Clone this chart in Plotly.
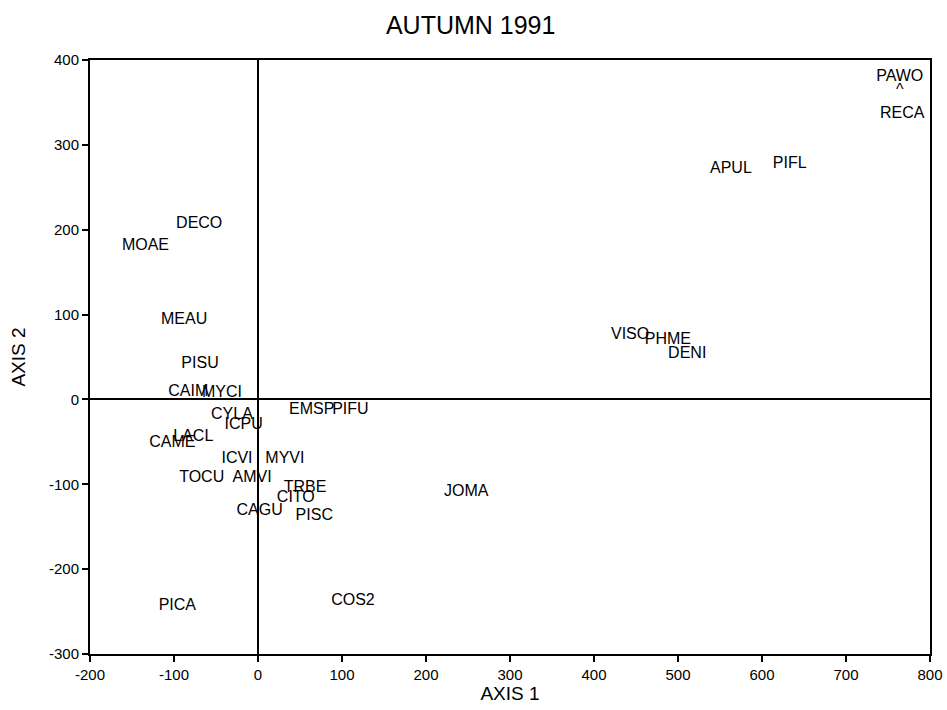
import plotly.graph_objects as go

labels = ["PAWO", "^", "RECA", "APUL", "PIFL", "DECO", "MOAE", "MEAU", "PISU",
          "CAIM", "MYCI", "CYLA", "ICPU", "EMSP", "PIFU", "LACL", "CAME",
          "ICVI", "MYVI", "TOCU", "AMVI", "TRBE", "CITO", "CAGU", "PISC",
          "JOMA", "VISO", "PHME", "DENI", "PICA", "COS2"]
axis1 = [764, 764, 767, 563, 633, -70, -134, -88, -69,
         -83, -43, -31, -17, 64, 110, -77, -102,
         -25, 32, -67, -7, 56, 45, 2, 67,
         248, 443, 488, 511, -96, 113]
axis2 = [380, 363, 336, 271, 277, 207, 181, 94, 42,
         9, 8, -18, -30, -13, -13, -44, -51,
         -70, -70, -93, -93, -104, -116, -131, -137,
         -109, 76, 70, 53, -244, -237]

x_ticks = [-200, -100, 0, 100, 200, 300, 400, 500, 600, 700, 800]
y_ticks = [-300, -200, -100, 0, 100, 200, 300, 400]

font_family = "Liberation Sans, Arial, sans-serif"

fig = go.Figure()
fig.add_trace(go.Scatter(
    x=axis1, y=axis2, mode="text", text=labels,
    textposition="middle center",
    textfont=dict(family=font_family, size=16, color="black"),
    hoverinfo="text", showlegend=False,
))

fig.update_layout(
    width=947, height=710,
    paper_bgcolor="white", plot_bgcolor="white",
    margin=dict(l=90, r=17, t=60, b=56, autoexpand=False),
    title=dict(text="AUTUMN 1991", x=0.497, xanchor="center", y=0.965, yanchor="middle",
               font=dict(family=font_family, size=25, color="black")),
    font=dict(family=font_family, color="black"),
)
fig.update_xaxes(
    range=[-200, 800], tickvals=x_ticks, ticktext=[str(v) for v in x_ticks],
    showgrid=False, zeroline=True, zerolinecolor="black", zerolinewidth=2,
    showline=True, linecolor="black", linewidth=2, mirror=True,
    ticks="outside", ticklen=6, tickwidth=2, tickcolor="black",
    tickfont=dict(size=15, color="black"),
    title=dict(text="AXIS 1", font=dict(size=19, color="black"), standoff=1),
)
fig.update_yaxes(
    range=[-300, 400], tickvals=y_ticks, ticktext=[str(v) for v in y_ticks],
    showgrid=False, zeroline=True, zerolinecolor="black", zerolinewidth=2,
    showline=True, linecolor="black", linewidth=2, mirror=True,
    ticks="outside", ticklen=6, tickwidth=2, tickcolor="black",
    tickfont=dict(size=15, color="black"),
    title=dict(text="AXIS 2", font=dict(size=19, color="black"), standoff=18),
)

fig.write_html(
    "out.html",
    config={"displayModeBar": False},
    post_script="document.body.style.margin='0px';document.body.style.overflow='hidden';",
)
